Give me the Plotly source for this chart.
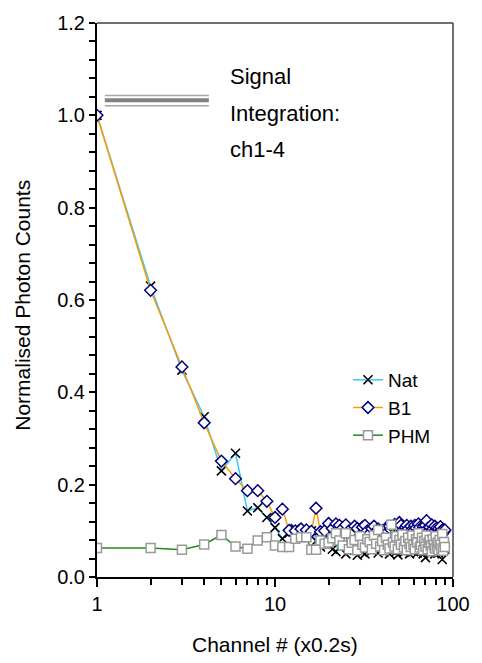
import plotly.graph_objects as go

channels = list(range(1, 91))

nat = [1.0, 0.63, 0.448, 0.347, 0.23, 0.268, 0.143, 0.15, 0.129, 0.107,
       0.083, 0.095, 0.105, 0.09, 0.088, 0.10, 0.078, 0.065, 0.082, 0.07,
       0.06, 0.055, 0.075, 0.068, 0.05, 0.062, 0.072, 0.058, 0.047, 0.066,
       0.054, 0.05, 0.07, 0.061, 0.057, 0.08, 0.065, 0.052, 0.06, 0.068,
       0.055, 0.072, 0.06, 0.05, 0.058, 0.065, 0.076, 0.055, 0.048, 0.062,
       0.07, 0.058, 0.053, 0.066, 0.06, 0.072, 0.05, 0.058, 0.064, 0.055,
       0.068, 0.06, 0.052, 0.075, 0.06, 0.057, 0.066, 0.05, 0.062, 0.042,
       0.07, 0.058, 0.064, 0.052, 0.068, 0.06, 0.055, 0.072, 0.05, 0.063,
       0.058, 0.066, 0.052, 0.07, 0.06, 0.055, 0.038, 0.065, 0.07, 0.06]

b1 = [1.0, 0.621, 0.455, 0.334, 0.251, 0.213, 0.187, 0.187, 0.164, 0.129,
      0.147, 0.101, 0.10, 0.104, 0.102, 0.099, 0.149, 0.098, 0.10, 0.116,
      0.105, 0.115, 0.112, 0.106, 0.113, 0.10, 0.095, 0.11, 0.105, 0.09,
      0.108, 0.112, 0.10, 0.094, 0.105, 0.11, 0.098, 0.104, 0.088, 0.10,
      0.092, 0.106, 0.098, 0.11, 0.102, 0.108, 0.114, 0.10, 0.106, 0.118,
      0.112, 0.10, 0.096, 0.108, 0.112, 0.104, 0.097, 0.11, 0.103, 0.10,
      0.112, 0.106, 0.098, 0.115, 0.108, 0.10, 0.096, 0.11, 0.104, 0.112,
      0.122, 0.105, 0.10, 0.108, 0.095, 0.113, 0.104, 0.098, 0.11, 0.10,
      0.106, 0.094, 0.104, 0.098, 0.109, 0.10, 0.093, 0.103, 0.098, 0.102]

phm = [0.0626, 0.0626, 0.059, 0.0705, 0.091, 0.066, 0.061, 0.079, 0.086, 0.068,
       0.065, 0.065, 0.083, 0.086, 0.086, 0.059, 0.059, 0.079, 0.072, 0.075,
       0.084, 0.095, 0.079, 0.068, 0.095, 0.06, 0.074, 0.08, 0.058, 0.088,
       0.07, 0.064, 0.082, 0.076, 0.06, 0.09, 0.072, 0.102, 0.066, 0.078,
       0.058, 0.085, 0.07, 0.062, 0.113, 0.075, 0.066, 0.088, 0.06, 0.08,
       0.07, 0.092, 0.064, 0.078, 0.058, 0.085, 0.072, 0.065, 0.09, 0.07,
       0.06, 0.082, 0.075, 0.095, 0.064, 0.07, 0.085, 0.058, 0.078, 0.066,
       0.09, 0.06, 0.074, 0.08, 0.068, 0.056, 0.082, 0.07, 0.062, 0.088,
       0.066, 0.074, 0.058, 0.08, 0.07, 0.062, 0.093, 0.057, 0.076, 0.065]

integ_x = [1.106, 4.25]
integ_y = [1.0431, 1.0325, 1.0207]
integ_label = ["Signal", "Integration:", "ch1-4"]

x_major = [1, 10, 100]
x_minor = [2, 3, 4, 5, 6, 7, 8, 9, 20, 30, 40, 50, 60, 70, 80, 90]
y_ticks = [0.0, 0.2, 0.4, 0.6, 0.8, 1.0, 1.2]

FONT = "Liberation Sans, Arial, sans-serif"

fig = go.Figure()

# signal integration bar
for i, yv in enumerate(integ_y):
    thick = (i == 1)
    fig.add_trace(go.Scatter(
        x=integ_x, y=[yv, yv], mode="lines", showlegend=False, hoverinfo="skip",
        line=dict(color="#808080" if thick else "#A6A6A6", width=4 if thick else 1.5)))

fig.add_trace(go.Scatter(
    x=channels, y=nat, name="Nat", mode="lines+markers",
    line=dict(color="#33CCFF", width=1.5),
    marker=dict(symbol="x-thin", size=9, color="black", line=dict(color="black", width=1.6))))

fig.add_trace(go.Scatter(
    x=channels, y=b1, name="B1", mode="lines+markers",
    line=dict(color="#FF9900", width=1.5),
    marker=dict(symbol="diamond", size=9, color="white", line=dict(color="#000080", width=1.5))))

fig.add_trace(go.Scatter(
    x=channels, y=phm, name="PHM", mode="lines+markers",
    line=dict(color="#228B22", width=1.5),
    marker=dict(symbol="square", size=9, color="white", line=dict(color="#999999", width=1.5))))

# annotation text
ann_y = [0.904, 0.837, 0.771]
annotations = []
for t, yy in zip(integ_label, ann_y):
    annotations.append(dict(text=t, x=0.369, y=yy, xref="paper", yref="paper",
                            xanchor="left", yanchor="middle", showarrow=False,
                            font=dict(family=FONT, size=22, color="black")))
annotations.append(dict(text="Normalised Photon Counts", x=-0.21, y=0.49,
                        xref="paper", yref="paper", xanchor="center", yanchor="middle",
                        textangle=-90, showarrow=False,
                        font=dict(family=FONT, size=21, color="black")))
annotations.append(dict(text="Channel # (x0.2s)", x=0.5, y=-0.121,
                        xref="paper", yref="paper", xanchor="center", yanchor="middle",
                        showarrow=False, font=dict(family=FONT, size=21, color="black")))

fig.update_layout(
    width=482, height=663,
    margin=dict(l=97, r=19, t=15, b=86),
    paper_bgcolor="white", plot_bgcolor="white",
    font=dict(family=FONT, size=20, color="black"),
    showlegend=True,
    legend=dict(x=0.705, y=0.39, xanchor="left", yanchor="top",
                bgcolor="rgba(0,0,0,0)", font=dict(size=19), tracegroupgap=0),
    annotations=annotations,
    shapes=[
        dict(type="line", xref="paper", yref="paper", x0=0, x1=1, y0=1, y1=1,
             line=dict(color="#404040", width=1.5)),
        dict(type="line", xref="paper", yref="paper", x0=1, x1=1, y0=0, y1=1,
             line=dict(color="#404040", width=1.5)),
    ],
)

fig.update_xaxes(
    type="log", range=[0, 2], showgrid=False, zeroline=False,
    showline=True, linecolor="black", linewidth=1.5,
    tickmode="array", tickvals=x_major, ticktext=[str(v) for v in x_major],
    ticks="outside", ticklen=8, tickwidth=1.5, tickcolor="black",
    tickfont=dict(family=FONT, size=20),
    minor=dict(tickvals=x_minor, ticks="outside", ticklen=6, tickwidth=1.5, tickcolor="black"),
)
fig.update_yaxes(
    range=[0, 1.2], showgrid=False, zeroline=False,
    showline=True, linecolor="black", linewidth=2,
    tickmode="array", tickvals=y_ticks, ticktext=[f"{v:.1f}" for v in y_ticks],
    ticks="outside", ticklen=6, tickwidth=1.5, tickcolor="black",
    tickfont=dict(family=FONT, size=20),
    minor=dict(dtick=0.04, ticks="outside", ticklen=6, tickwidth=1.5, tickcolor="black"),
)

fig.write_html("out.html")
